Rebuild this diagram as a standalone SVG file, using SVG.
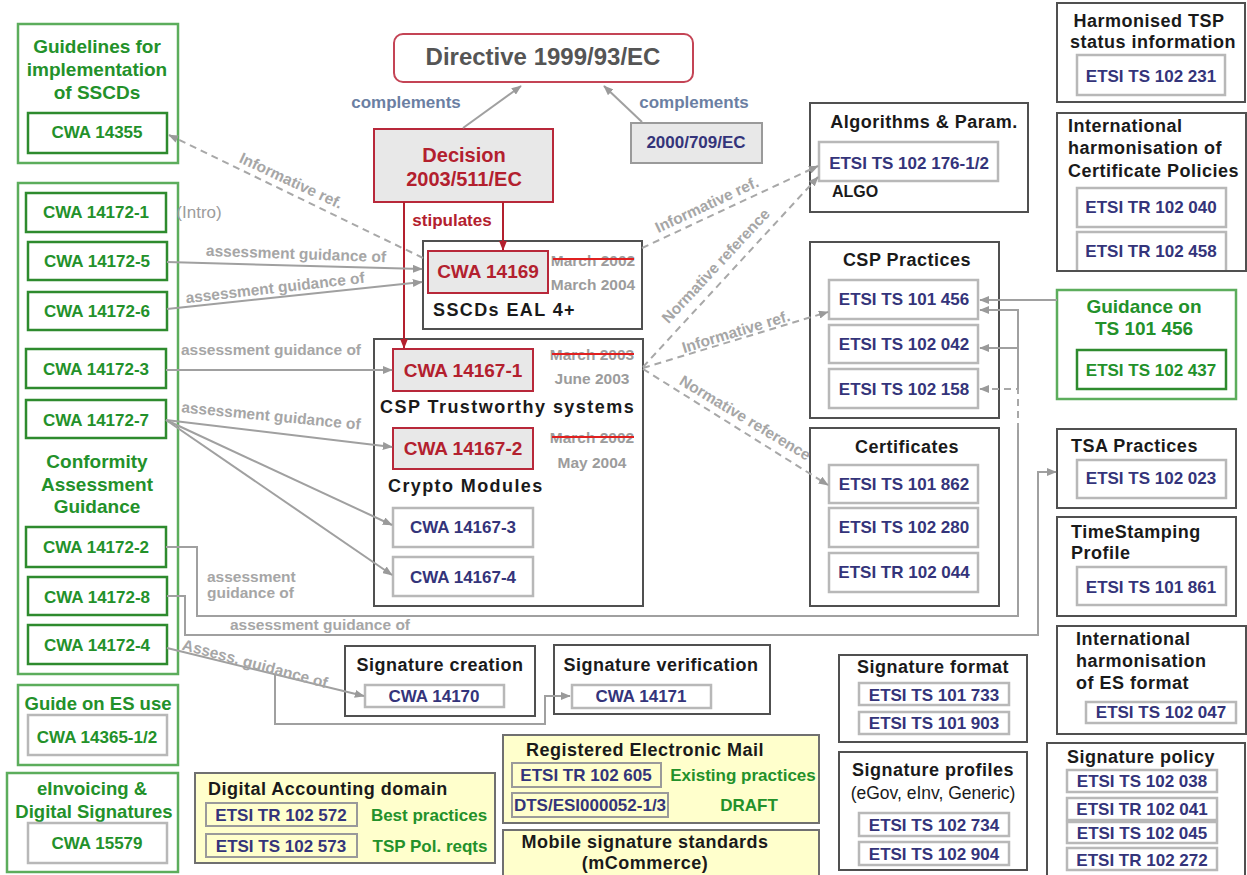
<svg xmlns="http://www.w3.org/2000/svg" width="1247" height="875" viewBox="0 0 1247 875">
<defs>
<style>
text{font-family:"Liberation Sans",Arial,sans-serif;font-weight:bold;}
.c{text-anchor:middle}
.nv{fill:#34347a;font-size:17px}
.gr{fill:#23912a}
.rd{fill:#b3202e}
.bk{fill:#1a1a1a;font-size:18px;letter-spacing:0.5px}
.lbl{fill:#a6a6a6;font-size:15.5px}
.dt{fill:#9c9c9c;font-size:15.5px}
.cont{fill:#fff;stroke:#505050;stroke-width:2}
.ib{fill:#fff;stroke:#b8b8b8;stroke-width:2.5}
.ibn{fill:none;stroke:#9a9a9a;stroke-width:2}
.go{fill:#fff;stroke:#5cad5c;stroke-width:2.5}
.gi{fill:#fff;stroke:#2e8b2e;stroke-width:2.5}
.rb{fill:#e8e8e8;stroke:#b8283a;stroke-width:2}
.yb{fill:#ffffcc;stroke:#707070;stroke-width:2}
.ln{fill:none;stroke:#a0a0a0;stroke-width:2}
.ds{fill:none;stroke:#a8a8a8;stroke-width:2;stroke-dasharray:7,5}
.rl{fill:none;stroke:#b3202e;stroke-width:2}
.st{stroke:#e02020;stroke-width:1.8}
</style>
<marker id="ar" markerWidth="5" markerHeight="4" refX="4.6" refY="2" orient="auto"><path d="M0,0 L5,2 L0,4 z" fill="#9a9a9a"/></marker>
<marker id="ra" markerWidth="5" markerHeight="4" refX="4.6" refY="2" orient="auto"><path d="M0,0 L5,2 L0,4 z" fill="#b3202e"/></marker>
</defs>
<rect width="1247" height="875" fill="#fff"/>

<g id="directive">
<rect x="394" y="34" width="299" height="48" rx="9" fill="#fff" stroke="#c44455" stroke-width="2"/>
<text class="c" x="543" y="65" fill="#555" font-size="24">Directive 1999/93/EC</text>
</g>
<g id="decision">
<rect class="rb" x="374" y="129" width="179" height="73"/>
<text class="c rd" x="464" y="162" font-size="20">Decision</text>
<text class="c rd" x="464" y="186" font-size="20">2003/511/EC</text>
</g>
<g id="d2000">
<rect x="631" y="123" width="131" height="40" fill="#e8e8e8" stroke="#9a9a9a" stroke-width="2"/>
<text class="c nv" x="696" y="148">2000/709/EC</text>
</g>

<g id="sscd">
<rect class="cont" x="423" y="241" width="219" height="88"/>
<rect class="rb" x="428" y="251" width="120" height="42"/>
<text class="c rd" x="488" y="278" font-size="19">CWA 14169</text>
<text class="c dt" x="593" y="266">March 2002</text>
<line class="st" x1="553" y1="259" x2="634" y2="259"/>
<text class="c dt" x="593" y="290">March 2004</text>
<text class="bk" x="433" y="316" style="letter-spacing:1.4px">SSCDs EAL 4+</text>
</g>

<g id="csp-ts">
<rect class="cont" x="374" y="339" width="269" height="267"/>
<rect class="rb" x="393" y="349" width="140" height="42"/>
<text class="c rd" x="463" y="377" font-size="19">CWA 14167-1</text>
<text class="c dt" x="592" y="360">March 2003</text>
<line class="st" x1="552" y1="354" x2="634" y2="354"/>
<text class="c dt" x="592" y="384">June 2003</text>
<text class="bk" x="380" y="413" style="letter-spacing:1.45px">CSP Trustworthy systems</text>
<rect class="rb" x="393" y="428" width="140" height="41"/>
<text class="c rd" x="463" y="455" font-size="19">CWA 14167-2</text>
<text class="c dt" x="592" y="443">March 2002</text>
<line class="st" x1="552" y1="437" x2="634" y2="437"/>
<text class="c dt" x="592" y="468">May 2004</text>
<text class="bk" x="388" y="492" style="letter-spacing:1.4px">Crypto Modules</text>
<rect class="ib" x="393" y="508" width="140" height="39"/>
<text class="c nv" x="463" y="533">CWA 14167-3</text>
<rect class="ib" x="393" y="557" width="140" height="39"/>
<text class="c nv" x="463" y="583">CWA 14167-4</text>
</g>

<g id="guidelines">
<rect class="go" x="18" y="24" width="160" height="139"/>
<text class="c gr" x="97" y="53" font-size="19">Guidelines for</text>
<text class="c gr" x="97" y="76" font-size="19">implementation</text>
<text class="c gr" x="97" y="99" font-size="19">of SSCDs</text>
<rect class="gi" x="28" y="113" width="139" height="40"/>
<text class="c gr" x="97" y="138" font-size="17">CWA 14355</text>
</g>

<g id="conformity">
<rect class="go" x="18" y="183" width="160" height="491"/>
<rect class="gi" x="26" y="193" width="140" height="39"/>
<text class="c gr" x="96" y="218" font-size="17">CWA 14172-1</text>
<text class="c" x="199" y="218" fill="#9c9c9c" font-size="17" style="font-weight:normal">(Intro)</text>
<rect class="gi" x="28" y="242" width="139" height="38"/>
<text class="c gr" x="97" y="267" font-size="17">CWA 14172-5</text>
<rect class="gi" x="28" y="292" width="139" height="38"/>
<text class="c gr" x="97" y="317" font-size="17">CWA 14172-6</text>
<rect class="gi" x="26" y="349" width="140" height="39"/>
<text class="c gr" x="96" y="375" font-size="17">CWA 14172-3</text>
<rect class="gi" x="26" y="400" width="140" height="38"/>
<text class="c gr" x="96" y="426" font-size="17">CWA 14172-7</text>
<text class="c gr" x="97" y="468" font-size="19">Conformity</text>
<text class="c gr" x="97" y="491" font-size="19">Assessment</text>
<text class="c gr" x="97" y="513" font-size="19">Guidance</text>
<rect class="gi" x="26" y="527" width="140" height="40"/>
<text class="c gr" x="96" y="553" font-size="17">CWA 14172-2</text>
<rect class="gi" x="28" y="577" width="139" height="38"/>
<text class="c gr" x="97" y="603" font-size="17">CWA 14172-8</text>
<rect class="gi" x="28" y="625" width="139" height="39"/>
<text class="c gr" x="97" y="651" font-size="17">CWA 14172-4</text>
</g>

<g id="guide-es">
<rect class="go" x="18" y="685" width="160" height="80"/>
<text class="c gr" x="98" y="710" font-size="18.5">Guide on ES use</text>
<rect class="ib" x="28" y="715" width="139" height="40"/>
<text class="c gr" x="97" y="743" font-size="17">CWA 14365-1/2</text>
</g>

<g id="einvoicing">
<rect class="go" x="7" y="773" width="171" height="99"/>
<text class="c gr" x="92" y="795" font-size="18.5">eInvoicing &amp;</text>
<text class="c gr" x="94" y="818" font-size="18.5">Digital Signatures</text>
<rect class="ib" x="28" y="823" width="139" height="40"/>
<text class="c gr" x="97" y="849" font-size="17">CWA 15579</text>
</g>

<g id="digital-accounting">
<rect class="yb" x="195" y="773" width="300" height="90"/>
<text class="bk" x="208" y="795">Digital Accounting domain</text>
<rect class="ibn" x="206" y="803" width="151" height="23"/>
<text class="c nv" x="281" y="821">ETSI TR 102 572</text>
<text class="c gr" x="429" y="821" font-size="17">Best practices</text>
<rect class="ibn" x="206" y="834" width="151" height="23"/>
<text class="c nv" x="281" y="852">ETSI TS 102 573</text>
<text class="c gr" x="430" y="852" font-size="17">TSP Pol. reqts</text>
</g>

<g id="rem">
<rect class="yb" x="503" y="735" width="316" height="88"/>
<text class="bk c" x="645" y="756">Registered Electronic Mail</text>
<rect class="ibn" x="512" y="763" width="149" height="24"/>
<text class="c nv" x="586" y="781">ETSI TR 102 605</text>
<text class="c gr" x="743" y="781" font-size="17">Existing practices</text>
<rect class="ibn" x="512" y="793" width="156" height="24"/>
<text class="c nv" x="590" y="811">DTS/ESI000052-1/3</text>
<text class="c gr" x="749" y="811" font-size="17">DRAFT</text>
</g>

<g id="mobile">
<rect class="yb" x="503" y="830" width="316" height="52"/>
<text class="bk c" x="645" y="848">Mobile signature standards</text>
<text class="bk c" x="645" y="869">(mCommerce)</text>
</g>

<g id="sig-creation">
<rect class="cont" x="345" y="646" width="190" height="70"/>
<text class="bk c" x="440" y="671">Signature creation</text>
<rect class="ib" x="365" y="685" width="139" height="22"/>
<text class="c nv" x="434" y="702">CWA 14170</text>
</g>

<g id="sig-verification">
<rect class="cont" x="554" y="645" width="216" height="69"/>
<text class="bk c" x="661" y="671">Signature verification</text>
<rect class="ib" x="572" y="685" width="139" height="23"/>
<text class="c nv" x="641" y="702">CWA 14171</text>
</g>

<g id="sig-format">
<rect class="cont" x="839" y="655" width="188" height="87"/>
<text class="bk c" x="933" y="673">Signature format</text>
<rect class="ib" x="859" y="683" width="150" height="22"/>
<text class="c nv" x="934" y="701">ETSI TS 101 733</text>
<rect class="ib" x="859" y="712" width="150" height="22"/>
<text class="c nv" x="934" y="729">ETSI TS 101 903</text>
</g>

<g id="sig-profiles">
<rect class="cont" x="839" y="752" width="188" height="118"/>
<text class="bk c" x="933" y="776">Signature profiles</text>
<text class="c" x="933" y="799" fill="#1a1a1a" font-size="17.5" style="font-weight:normal">(eGov, eInv, Generic)</text>
<rect class="ib" x="859" y="813" width="150" height="23"/>
<text class="c nv" x="934" y="831">ETSI TS 102 734</text>
<rect class="ib" x="859" y="842" width="150" height="23"/>
<text class="c nv" x="934" y="860">ETSI TS 102 904</text>
</g>

<g id="algorithms">
<rect class="cont" x="810" y="103" width="218" height="109"/>
<text class="bk c" x="924" y="128">Algorithms &amp; Param.</text>
<rect class="ib" x="819" y="142" width="179" height="39"/>
<text class="c nv" x="909" y="169">ETSI TS 102 176-1/2</text>
<text x="832" y="197" fill="#1a1a1a" font-size="16">ALGO</text>
</g>

<g id="csp-practices">
<rect class="cont" x="810" y="242" width="189" height="176"/>
<text class="bk c" x="907" y="266">CSP Practices</text>
<rect class="ib" x="829" y="280" width="149" height="39"/>
<text class="c nv" x="904" y="305">ETSI TS 101 456</text>
<rect class="ib" x="829" y="325" width="149" height="38"/>
<text class="c nv" x="904" y="350">ETSI TS 102 042</text>
<rect class="ib" x="829" y="369" width="149" height="39"/>
<text class="c nv" x="904" y="395">ETSI TS 102 158</text>
</g>

<g id="certificates">
<rect class="cont" x="810" y="428" width="189" height="178"/>
<text class="bk c" x="907" y="453">Certificates</text>
<rect class="ib" x="829" y="465" width="149" height="38"/>
<text class="c nv" x="904" y="490">ETSI TS 101 862</text>
<rect class="ib" x="829" y="508" width="149" height="39"/>
<text class="c nv" x="904" y="533">ETSI TS 102 280</text>
<rect class="ib" x="829" y="553" width="149" height="39"/>
<text class="c nv" x="904" y="578">ETSI TR 102 044</text>
</g>

<g id="harmonised-tsp">
<rect class="cont" x="1057" y="3" width="188" height="99"/>
<text class="bk c" x="1149" y="27">Harmonised TSP</text>
<text class="bk c" x="1153" y="48">status information</text>
<rect class="ib" x="1077" y="55" width="148" height="40"/>
<text class="c nv" x="1151" y="82">ETSI TS 102 231</text>
</g>

<g id="intl-cp">
<rect class="ib" x="1077" y="188" width="149" height="39"/>
<text class="c nv" x="1151" y="213">ETSI TR 102 040</text>
<rect class="ib" x="1077" y="232" width="149" height="42"/>
<text class="c nv" x="1151" y="257">ETSI TR 102 458</text>
<rect x="1057" y="113" width="189" height="158" fill="none" stroke="#505050" stroke-width="2"/>
<rect x="1058" y="272" width="187" height="6" fill="#fff"/>
<text class="bk" x="1068" y="132">International</text>
<text class="bk" x="1068" y="154">harmonisation of</text>
<text class="bk" x="1068" y="177">Certificate Policies</text>
</g>

<g id="guidance-456">
<rect class="go" x="1057" y="290" width="179" height="109"/>
<text class="c gr" x="1144" y="313" font-size="19">Guidance on</text>
<text class="c gr" x="1144" y="335" font-size="19">TS 101 456</text>
<rect class="gi" x="1077" y="350" width="149" height="39"/>
<text class="c gr" x="1151" y="376" font-size="17">ETSI TS 102 437</text>
</g>

<g id="tsa">
<rect class="cont" x="1057" y="429" width="179" height="79"/>
<text class="bk" x="1071" y="452">TSA Practices</text>
<rect class="ib" x="1077" y="460" width="149" height="38"/>
<text class="c nv" x="1151" y="484">ETSI TS 102 023</text>
</g>

<g id="timestamping">
<rect class="cont" x="1057" y="517" width="179" height="99"/>
<text class="bk" x="1071" y="538">TimeStamping</text>
<text class="bk" x="1071" y="559">Profile</text>
<rect class="ib" x="1077" y="567" width="149" height="38"/>
<text class="c nv" x="1151" y="593">ETSI TS 101 861</text>
</g>

<g id="intl-es">
<rect class="cont" x="1057" y="626" width="189" height="108"/>
<text class="bk" x="1076" y="645">International</text>
<text class="bk" x="1076" y="667">harmonisation</text>
<text class="bk" x="1076" y="689">of ES format</text>
<rect class="ib" x="1086" y="702" width="150" height="21"/>
<text class="c nv" x="1161" y="718">ETSI TS 102 047</text>
</g>

<g id="sig-policy">
<rect class="cont" x="1047" y="743" width="198" height="140"/>
<text class="bk c" x="1141" y="763">Signature policy</text>
<rect class="ib" x="1067" y="770" width="150" height="22"/>
<text class="c nv" x="1142" y="787">ETSI TS 102 038</text>
<rect class="ib" x="1067" y="798" width="150" height="22"/>
<text class="c nv" x="1142" y="815">ETSI TR 102 041</text>
<rect class="ib" x="1067" y="822" width="150" height="21"/>
<text class="c nv" x="1142" y="839">ETSI TS 102 045</text>
<rect class="ib" x="1067" y="848" width="150" height="22"/>
<text class="c nv" x="1142" y="866">ETSI TR 102 272</text>
</g>

<g id="connectors">
<path class="ln" d="M463 128 L521 86" marker-end="url(#ar)"/>
<path class="ln" d="M642 122 L604 86" marker-end="url(#ar)"/>
<path class="rl" d="M404 202 V348" marker-end="url(#ra)"/>
<path class="rl" d="M503 202 V250" marker-end="url(#ra)"/>
<path class="ds" d="M423 258 L169 135" marker-end="url(#ar)"/>
<path class="ln" d="M167 262 L422 269" marker-end="url(#ar)"/>
<path class="ln" d="M167 309 L422 282" marker-end="url(#ar)"/>
<path class="ln" d="M166 370 L392 370" marker-end="url(#ar)"/>
<path class="ln" d="M166 420 L392 447" marker-end="url(#ar)"/>
<path class="ln" d="M166 420 L392 525" marker-end="url(#ar)"/>
<path class="ln" d="M166 420 L392 575" marker-end="url(#ar)"/>
<path class="ln" d="M166 547 H197 V616 H1018 V430"/>
<path class="ds" d="M1018 430 V389 H980" marker-end="url(#ar)"/>
<path class="ln" d="M1018 389 V310 H980" marker-end="url(#ar)"/>
<path class="ln" d="M1018 348 H980" marker-end="url(#ar)"/>
<path class="ln" d="M1057 300 H980" marker-end="url(#ar)"/>
<path class="ln" d="M167 596 H185 V635 H1038 V472 H1056" marker-end="url(#ar)"/>
<path class="ln" d="M167 648 L364 696" marker-end="url(#ar)"/>
<path class="ln" d="M275 674 V724 H545 V696 H570" marker-end="url(#ar)"/>
<path class="ds" d="M642 248 L818 166" marker-end="url(#ar)"/>
<path class="ds" d="M643 367 L818 177" marker-end="url(#ar)"/>
<path class="ds" d="M643 368 L828 312" marker-end="url(#ar)"/>
<path class="ds" d="M643 369 L828 485" marker-end="url(#ar)"/>
<text class="c" x="406" y="108" fill="#6b7fa3" font-size="17">complements</text>
<text class="c" x="694" y="108" fill="#6b7fa3" font-size="17">complements</text>
<text class="rd" x="452" y="226" text-anchor="middle" font-size="17">stipulates</text>
<text class="lbl c" transform="translate(291,181) rotate(25)" y="5" font-size="15">Informative ref.</text>
<text class="lbl c" transform="translate(296,254) rotate(2)" y="5">assessment guidance of</text>
<text class="lbl c" transform="translate(275,288) rotate(-6.5)" y="5">assessment guidance of</text>
<text class="lbl c" x="271" y="355">assessment guidance of</text>
<text class="lbl c" transform="translate(271,416) rotate(5.5)" y="5">assessment guidance of</text>
<text class="lbl" x="207" y="582">assessment</text>
<text class="lbl" x="207" y="598">guidance of</text>
<text class="lbl c" x="320" y="630">assessment guidance of</text>
<text class="lbl c" transform="translate(255,664) rotate(15)" y="5" font-size="15">Assess. guidance of</text>
<text class="lbl c" transform="translate(707,205) rotate(-25)" y="5" font-size="15">Informative ref.</text>
<text class="lbl c" transform="translate(716,266) rotate(-47)" y="5" font-size="15">Normative reference</text>
<text class="lbl c" transform="translate(736,332) rotate(-17)" y="5" font-size="15">Informative ref.</text>
<text class="lbl c" transform="translate(745,418) rotate(31)" y="5" font-size="15">Normative reference</text>
</g>
</svg>
